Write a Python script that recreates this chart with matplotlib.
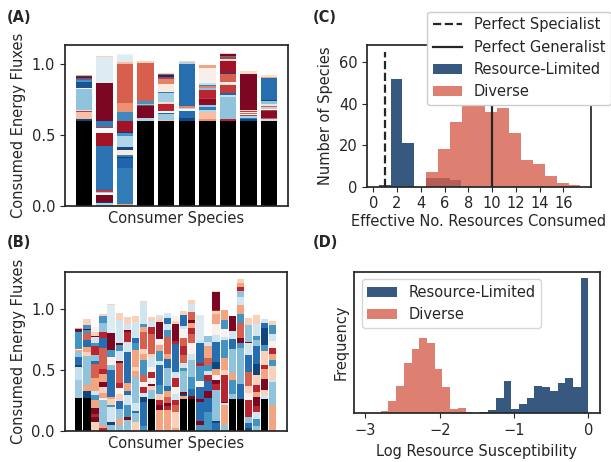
import matplotlib
matplotlib.use("Agg")
import matplotlib.pyplot as plt
from matplotlib.lines import Line2D
from matplotlib.patches import Patch

# ---------------- colour shades (positions on the RdBu colormap; None = black) -------------
K = None
DR, R1, R2, S, P, W = 0.03, 0.12, 0.2, 0.3, 0.38, 0.48
LB1, LB2, B1, B2, DB = 0.6, 0.7, 0.8, 0.88, 0.96

# ---------------- Panel A: stacked consumed energy fluxes (bottom -> top) -------------------
A_heights = [
    [.60, .014, .05, .006, .008, .148, .006, .04, .012, .006, .01, .008, .008, .006],
    [.02, .006, .047, .015, .012, .008, .012, .30, .094, .035, .008, .04, .27, .18, .008],
    [.01, .258, .066, .006, .015, .035, .005, .02, .075, .023, .005, .077, .063, .066, .272, .016, .047, .018],
    [.60, .016, .087, .006, .006, .023, .265, .016],
    [.596, .005, .047, .005, .014, .052, .014, .059, .008, .061, .033, .006, .009, .012, .006, .007],
    [.596, .019, .005, .05, .012, .007, .014, .296, .012, .012],
    [.596, .016, .049, .012, .023, .012, .042, .012, .052, .005, .009, .014, .012, .012, .108, .015],
    [.596, .014, .157, .016, .012, .054, .012, .012, .054, .009, .082, .016, .012, .008, .015, .01],
    [.596, .014, .009, .012, .008, .006, .008, .006, .007, .007, .258, .019],
    [.596, .012, .011, .047, .007, .012, .012, .007, .014, .021, .005, .157, .008, .015],
]
A_shades = [
    [K, .95, .35, .15, .6, .7, .48, .93, .8, .15, .88, .03, .95, .3],
    [.65, .97, .03, .5, .68, .15, .88, .87, .08, .5, .15, .85, .03, .57, .38],
    [.3, .85, .9, .97, .85, .45, .15, .95, .65, .8, .97, .08, .82, .27, .2, .35, .57, .5],
    [K, .65, .03, .88, .3, .8, .2, .38],
    [K, .35, .68, .9, .5, .12, .42, .67, .85, .45, .25, .15, .88, .03, .85, .38],
    [K, .95, .03, .88, .5, .65, .25, .88, .65, .38],
    [K, .27, .35, .65, .85, .68, .05, .15, .12, .9, .7, .25, .85, .62, .47, .3],
    [K, .12, .7, .62, .9, .15, .4, .48, .2, .95, .08, .42, .15, .85, .03, .38],
    [K, .95, .85, .65, .15, .5, .2, .5, .15, .4, .03, .4],
    [K, .62, .2, .05, .15, .5, .65, .2, .42, .7, .95, .88, .3, .42],
]

# ---------------- Panel B ----------------------------------------------------------------
B_heights = [
    [.266, .15, .11, .014, .068, .04, .015, .01, .137, .01, .014, .008],
    [.266, .06, .05, .24, .03, .04, .06, .055, .03, .01, .03, .05],
    [.075, .04, .025, .05, .06, .04, .04, .1, .12, .02, .05, .08, .02, .05, .01, .035, .04],
    [.02, .03, .2, .02, .04, .05, .04, .07, .04, .17, .08, .05, .08, .055, .02],
    [.05, .025, .12, .02, .05, .015, .22, .04, .07, .055, .14, .232, .01],
    [.045, .05, .08, .07, .06, .05, .04, .16, .02, .08, .05, .02, .19, .055],
    [.09, .02, .1, .08, .04, .06, .26, .08, .08, .02, .05, .057],
    [.075, .07, .02, .06, .22, .05, .03, .14, .06, .04, .13, .05],
    [.04, .2, .04, .03, .05, .04, .06, .12, .05, .04, .14, .04, .03, .18, .006],
    [.265, .07, .03, .02, .05, .05, .04, .08, .03, .16, .06, .05, .029],
    [.17, .04, .04, .055, .07, .17, .03, .08, .05, .05, .14, .03, .031],
    [.17, .03, .03, .05, .05, .04, .15, .07, .04, .14, .06, .05, .05, .036],
    [.02, .13, .06, .04, .05, .06, .07, .05, .23, .03, .14, .02, .045],
    [.265, .02, .015, .02, .17, .03, .04, .06, .08, .06, .08, .02, .09, .034],
    [.265, .02, .06, .1, .14, .05, .09, .07, .05, .04, .03, .06, .07, .029],
    [.05, .03, .16, .02, .1, .05, .12, .03, .16, .03, .2, .006],
    [.15, .12, .06, .08, .05, .03, .05, .06, .1, .03, .048],
    [.06, .02, .258, .05, .03, .04, .05, .06, .16, .06, .09, .08, .03, .01, .145, .005],
    [.05, .16, .02, .01, .22, .04, .1, .15, .02, .07, .07, .08, .002],
    [.265, .04, .11, .06, .2, .08, .07, .12],
    [.265, .12, .3, .04, .04, .12, .08, .07, .065, .05, .03, .04, .027],
    [.02, .04, .05, .14, .06, .06, .11, .14, .1, .01, .14, .059],
    [.04, .06, .05, .05, .08, .04, .06, .08, .09, .15, .05, .03, .1, .076],
    [.265, .03, .04, .09, .08, .04, .11, .05, .14, .04, .038],
    [.21, .19, .02, .11, .05, .05, .05, .06, .06, .07, .031],
]
B_shades = [
    [K, .68, .62, DB, B2, LB2, S, W, B1, DB, DR, S],
    [K, DB, S, LB2, P, S, B2, R2, B1, DR, B1, P],
    [P, DR, R1, DR, S, B1, LB1, S, R2, B2, LB2, R1, B1, LB1, DR, P, W],
    [R1, S, LB2, W, S, P, DR, S, R1, R2, B2, R1, LB2, B1, P],
    [LB2, DB, LB1, B1, P, S, B2, LB2, W, B1, DR, .57, P],
    [LB2, S, LB2, B2, P, W, R1, R2, DR, LB1, B1, DR, LB1, P],
    [LB2, DR, B1, LB1, B2, S, B2, LB1, R1, DR, LB1, P],
    [P, LB2, B2, LB1, LB2, S, P, S, B1, B2, LB1, P],
    [B1, B2, DB, LB1, R1, W, R2, B1, S, P, R2, S, B1, LB1, P],
    [K, LB2, P, DR, W, R1, W, LB1, P, R2, R1, LB1, P],
    [S, DR, R1, P, B1, B2, LB1, B1, S, W, DR, P, LB1],
    [S, R1, DR, R2, S, B2, LB2, B2, S, R2, B1, LB1, B2, LB1],
    [S, P, R2, R1, LB1, W, R1, LB1, B2, R1, DR, P, W],
    [K, S, DB, DR, LB2, B1, LB1, R2, R1, R2, W, LB1, B2, P],
    [K, DR, B2, B1, LB2, LB1, W, R2, R1, S, DR, R2, LB1, P],
    [B1, DR, B2, DR, B2, W, B1, R1, B2, LB1, .57, P],
    [B1, B2, DR, B2, R1, LB1, B1, R2, S, LB1, LB2],
    [B2, DB, LB2, R1, DR, W, S, DB, B2, LB1, W, S, P, R1, DR, P],
    [LB2, S, LB1, DR, R1, P, S, B1, LB1, W, B1, S, P],
    [K, LB2, B1, S, LB2, B2, LB1, DR],
    [K, B2, .72, B1, DR, R2, B1, S, LB1, LB2, R1, S, P],
    [DB, B2, LB2, R1, W, P, R2, B2, LB1, DR, LB2, P],
    [LB2, B1, LB1, R1, DR, S, R1, P, DB, B2, LB2, B1, LB1, P],
    [K, LB1, P, DR, S, R1, P, B1, DB, B2, LB1],
    [S, LB2, LB1, P, B1, S, R1, W, LB1, B1, P],
]

# ---------------- Panel C: effective number of resources consumed ------------------------
C_limited_edges = [0.48, 1.47, 2.46, 3.45, 4.44, 5.43, 6.42, 7.41]
C_limited_counts = [1, 52, 21, 0, 4, 4, 3]
C_diverse_edges = [4.44, 5.44, 6.44, 7.44, 8.44, 9.44, 10.44, 11.44, 12.44, 13.44,
                   14.44, 15.44, 16.44, 17.44]
C_diverse_counts = [7, 18, 31, 39, 39, 36, 38, 26, 13, 11, 5, 2, 1]
C_specialist = 1
C_generalist = 10

# ---------------- Panel D: log resource susceptibility -----------------------------------
D_limited_edges = [-1.452, -1.348, -1.245, -1.141, -1.037, -0.934, -0.830, -0.726,
                   -0.622, -0.519, -0.415, -0.311, -0.207, -0.104, 0.0]
D_limited_counts = [3, 10, 46, 97, 13, 28, 46, 82, 79, 67, 90, 105, 78, 403]
D_diverse_edges = [-2.90, -2.796, -2.692, -2.588, -2.484, -2.38, -2.276, -2.172,
                   -2.068, -1.964, -1.86, -1.756, -1.652, -1.548]
D_diverse_counts = [2, 8, 37, 82, 150, 193, 226, 209, 133, 78, 13, 17, 4]

# ---------------- style --------------------------------------------------------------------
FS = 10.5
DARK = "#262626"
plt.rcParams.update({
    "font.family": ["DejaVu Sans"],
    "font.size": FS,
    "text.color": DARK,
    "axes.labelcolor": DARK,
    "axes.edgecolor": DARK,
    "axes.linewidth": 1.25,
    "xtick.color": DARK,
    "ytick.color": DARK,
    "xtick.labelsize": FS,
    "ytick.labelsize": FS,
    "legend.fontsize": FS,
})
cmap = plt.get_cmap("RdBu")
BLUE = "#053061"
RED = "#d6604d"
ALPHA = 0.8

W_PX, H_PX = 611, 462
fig = plt.figure(figsize=(W_PX / 100, H_PX / 100), dpi=100)


def rect(l, t, r, b):
    return [l / W_PX, 1 - b / H_PX, (r - l) / W_PX, (b - t) / H_PX]


def stacked(ax, heights, shades, width):
    for i, (hs, cs) in enumerate(zip(heights, shades)):
        bottom = 0.0
        for h, c in zip(hs, cs):
            col = "black" if c is None else cmap(c)
            ax.bar(i, h, bottom=bottom, width=width, color=col, linewidth=0)
            bottom += h


# Panel A
axA = fig.add_axes(rect(65, 45, 288, 205.7))
stacked(axA, A_heights, A_shades, 0.8)
axA.set_xlim(-0.93, len(A_heights) - 1 + 0.93)
axA.set_xticks([])
axA.set_yticks([0.0, 0.5, 1.0])
axA.set_ylabel("Consumed Energy Fluxes")
axA.set_xlabel("Consumer Species", labelpad=4)

# Panel B
axB = fig.add_axes(rect(64.7, 271.7, 286.7, 430.7))
stacked(axB, B_heights, B_shades, 0.9)
axB.set_xlim(-1.75, len(B_heights) - 1 + 1.75)
axB.set_xticks([])
axB.set_yticks([0.0, 0.5, 1.0])
axB.set_ylabel("Consumed Energy Fluxes")
axB.set_xlabel("Consumer Species", labelpad=4)

# Panel C
axC = fig.add_axes(rect(367.3, 45, 590.7, 186.7))
axC.hist(C_limited_edges[:-1], bins=C_limited_edges, weights=C_limited_counts,
         color=BLUE, alpha=ALPHA)
axC.hist(C_diverse_edges[:-1], bins=C_diverse_edges, weights=C_diverse_counts,
         color=RED, alpha=ALPHA)
axC.vlines(C_specialist, 0, 65, colors=DARK, linestyles="--", linewidth=1.6)
axC.vlines(C_generalist, 0, 65, colors=DARK, linestyles="-", linewidth=1.6)
axC.set_xlim(-0.5, 18.3)
axC.set_ylim(0, 68.2)
axC.set_xticks(range(0, 17, 2))
axC.set_yticks([0, 20, 40, 60])
axC.set_ylabel("Number of Species")
axC.set_xlabel("Effective No. Resources Consumed", labelpad=2)
handlesC = [
    Line2D([], [], color=DARK, linestyle="--", linewidth=1.6),
    Line2D([], [], color=DARK, linestyle="-", linewidth=1.6),
    Patch(facecolor=BLUE, alpha=ALPHA),
    Patch(facecolor=RED, alpha=ALPHA),
]
legC = axC.legend(handlesC, ["Perfect Specialist", "Perfect Generalist",
                             "Resource-Limited", "Diverse"],
                  loc="upper right", bbox_to_anchor=(1.0, 0.975),
                  bbox_transform=fig.transFigure, borderaxespad=0,
                  framealpha=1.0, edgecolor="0.8")

# Panel D
axD = fig.add_axes(rect(354.3, 271.7, 599.5, 413.3))
axD.hist(D_limited_edges[:-1], bins=D_limited_edges, weights=D_limited_counts,
         color=BLUE, alpha=ALPHA, label="Resource-Limited")
axD.hist(D_diverse_edges[:-1], bins=D_diverse_edges, weights=D_diverse_counts,
         color=RED, alpha=ALPHA, label="Diverse")
axD.set_xlim(-3.15, 0.15)
axD.set_xticks([-3, -2, -1, 0])
axD.set_yticks([])
axD.set_ylabel("Frequency")
axD.set_xlabel("Log Resource Susceptibility")
axD.legend(loc="upper left", framealpha=0.8, edgecolor="0.8")

# Panel labels
for lab, x, y in [("(A)", 7, 10), ("(B)", 7, 235), ("(C)", 313, 10), ("(D)", 313, 235)]:
    fig.text(x / W_PX, 1 - y / H_PX, lab, fontweight="bold", fontsize=FS,
             va="top", ha="left")

fig.savefig("out.png", dpi=100)
